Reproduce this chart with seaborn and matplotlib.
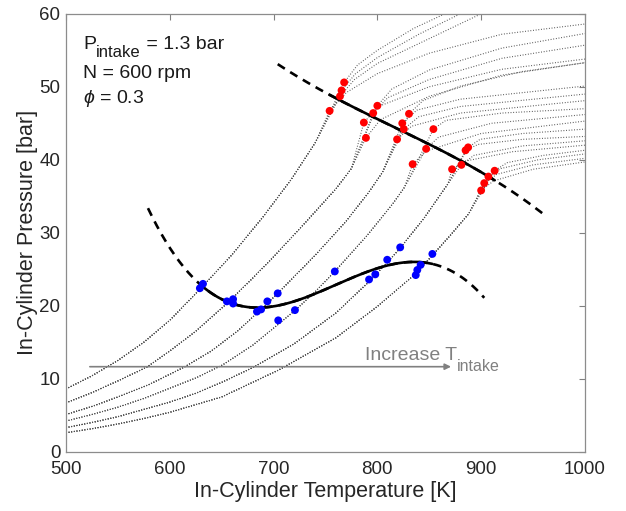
import numpy as np
import pandas as pd
import matplotlib
matplotlib.use("Agg")
import matplotlib.pyplot as plt
import seaborn as sns

# ---------------- data ----------------
# compression traces (temperature [K], pressure [bar]) per intake-temperature group
A_comp_T = [500, 525, 550, 575, 600, 630, 660, 690, 717, 740]
A_comp_P = [8.6, 10.4, 12.5, 15.0, 18.0, 22.4, 27.0, 32.2, 37.3, 42.3]
B_comp_T = [500, 525, 550, 578, 600, 625, 655, 680, 700, 730, 760, 775]
B_comp_P = [6.7, 8.1, 9.7, 11.6, 13.8, 16.5, 20.3, 23.8, 26.7, 31.3, 36.0, 38.8]
C_comp_T = [500, 525, 550, 580, 614, 640, 665, 688, 704, 740, 770, 792, 805]
C_comp_P = [5.1, 6.2, 7.5, 9.2, 11.6, 13.8, 16.5, 19.5, 21.7, 26.9, 31.6, 35.6, 38.3]
D_comp_T = [500, 525, 550, 575, 600, 625, 651, 680, 704, 721, 740, 759, 790, 815, 826]
D_comp_P = [4.2, 5.1, 6.1, 7.3, 8.7, 10.1, 11.9, 14.6, 17.4, 19.4, 21.9, 24.7, 29.6, 34.0, 36.2]
E_comp_T = [500, 525, 550, 575, 600, 625, 650, 681, 720, 760, 792, 810, 822, 845, 868]
E_comp_P = [3.3, 4.0, 4.8, 5.8, 6.8, 8.0, 9.5, 11.6, 14.8, 19.0, 23.3, 26.0, 27.9, 32.0, 36.7]
F_comp_T = [500, 525, 550, 575, 600, 650, 705, 760, 800, 837, 853, 870, 888]
F_comp_P = [2.6, 3.15, 3.8, 4.55, 5.4, 7.5, 11.2, 15.6, 19.9, 24.4, 26.9, 29.6, 32.6]

# ignition (red) points per group
A_red_T = [754, 764, 765.5, 768]
A_red_P = [46.7, 48.7, 49.5, 50.6]
B_red_T = [787, 789, 796, 800]
B_red_P = [45.1, 43.0, 46.4, 47.4]
C_red_T = [819, 824, 825.5, 830.5]
C_red_P = [42.8, 45.0, 44.2, 46.3]
D_red_T = [834, 847, 854]
D_red_P = [39.4, 41.5, 44.2]
E_red_T = [872, 881, 885, 887.5]
E_red_P = [38.7, 39.3, 41.3, 41.7]
F_red_T = [900, 903, 907, 913]
F_red_P = [35.8, 36.8, 37.7, 38.5]

# post-ignition traces, one list per cycle (same order as the red points)
A_trail_T = [[770, 800, 850, 920, 1000], [778, 800, 850, 900], [779, 800, 840, 880], [781, 800, 835, 865]]
A_trail_P = [[49.2, 51.8, 54.6, 57.2, 58.6], [51.0, 53.2, 56.6, 60.0], [51.8, 54.0, 57.2, 60.0], [53.0, 55.0, 58.0, 60.0]]
B_trail_T = [[801, 850, 920, 1000], [803, 850, 920, 1000], [810, 850, 920, 1000], [814, 850, 920, 1000]]
B_trail_P = [[47.3, 50.0, 52.4, 53.8], [45.5, 48.7, 51.6, 53.3], [48.5, 51.0, 53.9, 55.7], [49.7, 52.3, 55.3, 57.3]]
C_trail_T = [[833, 880, 1000], [838, 880, 1000], [840, 880, 1000], [844, 880, 940, 1000]]
C_trail_P = [[44.6, 46.4, 48.1], [46.8, 48.3, 50.1], [45.9, 47.3, 49.0], [48.1, 50.1, 52.1, 53.3]]
D_trail_T = [[847, 900, 1000], [859, 910, 1000], [866, 920, 1000]]
D_trail_P = [[41.2, 43.6, 45.3], [43.1, 45.0, 46.2], [45.4, 46.4, 47.0]]
E_trail_T = [[884, 930, 1000], [893, 940, 1000], [897, 940, 1000], [899, 940, 1000]]
E_trail_P = [[39.8, 41.1, 42.0], [40.6, 41.9, 42.6], [42.1, 42.8, 43.2], [42.8, 43.6, 44.2]]
F_trail_T = [[912, 950, 1000], [915, 950, 1000], [919, 955, 1000], [925, 960, 1000]]
F_trail_P = [[37.1, 38.7, 39.7], [38.0, 39.3, 40.2], [38.8, 40.0, 40.8], [39.6, 40.6, 41.3]]

# low-temperature (blue) points
blue_T = [629, 632, 655, 661, 661, 684, 688, 694, 704, 704.5, 720.6, 759,
          792, 798, 809.5, 822, 837, 838.5, 841.7, 853]
blue_P = [22.4, 23.0, 20.6, 20.9, 20.3, 19.2, 19.5, 20.6, 21.7, 18.0, 19.4, 24.7,
          23.6, 24.3, 26.3, 28.0, 24.2, 24.9, 25.6, 27.1]

x_ticks = [500, 600, 700, 800, 900, 1000]
y_ticks = [0, 10, 20, 30, 40, 50, 60]

# ---------------- build tables ----------------
groups = [
    (A_comp_T, A_comp_P, A_red_T, A_red_P, A_trail_T, A_trail_P),
    (B_comp_T, B_comp_P, B_red_T, B_red_P, B_trail_T, B_trail_P),
    (C_comp_T, C_comp_P, C_red_T, C_red_P, C_trail_T, C_trail_P),
    (D_comp_T, D_comp_P, D_red_T, D_red_P, D_trail_T, D_trail_P),
    (E_comp_T, E_comp_P, E_red_T, E_red_P, E_trail_T, E_trail_P),
    (F_comp_T, F_comp_P, F_red_T, F_red_P, F_trail_T, F_trail_P),
]
rows = []
red_T, red_P = [], []
cyc = 0
for cT, cP, rT, rP, tT, tP in groups:
    for k in range(len(rT)):
        Ts = [t for t in cT if t < rT[k] - 2] + [rT[k]] + tT[k]
        Ps = [p for t, p in zip(cT, cP) if t < rT[k] - 2] + [rP[k]] + tP[k]
        for t, p in zip(Ts, Ps):
            rows.append((cyc, t, p))
        cyc += 1
    red_T += rT
    red_P += rP
traces = pd.DataFrame(rows, columns=["cycle", "T", "P"])
blue = pd.DataFrame({"T": blue_T, "P": blue_P})
red = pd.DataFrame({"T": red_T, "P": red_P})

# ---------------- style ----------------
sns.set_style("white")
plt.rcParams["font.family"] = ["Liberation Sans", "DejaVu Sans"]
plt.rcParams["mathtext.fontset"] = "custom"
plt.rcParams["mathtext.rm"] = "Liberation Sans"
plt.rcParams["mathtext.it"] = "Liberation Sans:italic"
plt.rcParams["mathtext.sf"] = "Liberation Sans"

fig = plt.figure(figsize=(6.26, 5.11), dpi=100)
ax = fig.add_axes([0.1054, 0.116, 0.829, 0.857])

sns.lineplot(data=traces, x="T", y="P", units="cycle", estimator=None, sort=False,
             color="0.3", lw=0.8, ls=(0, (0.8, 1.6)), ax=ax, legend=False)

# cubic fits of the marker clouds
def draw_fit(T, P):
    c = np.polyfit(T, P, 3)
    lo, hi = min(T), max(T)
    xs = np.linspace(lo - 50, hi + 50, 300)
    ax.plot(xs, np.polyval(c, xs), color="black", lw=1.9, ls=(0, (3.2, 2.4)), zorder=3)
    xs2 = np.linspace(lo, hi, 200)
    ax.plot(xs2, np.polyval(c, xs2), color="black", lw=1.9, zorder=4)

draw_fit(blue_T, blue_P)
draw_fit(red_T, red_P)

sns.scatterplot(data=blue, x="T", y="P", color="#0000ff", s=32, edgecolor="none", ax=ax, zorder=5)
sns.scatterplot(data=red, x="T", y="P", color="#ff0000", s=32, edgecolor="none", ax=ax, zorder=5)

ax.annotate("", xy=(871, 11.65), xytext=(523, 11.65),
            arrowprops=dict(arrowstyle="-|>", color="0.5", lw=1.2, mutation_scale=9,
                            shrinkA=0, shrinkB=0))


def sub_text(x, y, main, sub, rest, size, subsize, drop, color, coords):
    t1 = ax.text(x, y, main, fontsize=size, color=color, transform=coords, va="baseline")
    t2 = ax.annotate(sub, xy=(1, 0), xycoords=t1, xytext=(0, -drop), textcoords="offset points",
                     fontsize=subsize, color=color, va="bottom", ha="left")
    if rest:
        ax.annotate(rest, xy=(1, 0), xycoords=(t2, t1), fontsize=size, color=color,
                    va="bottom", ha="left")


sub_text(788, 12.5, "Increase T", "intake", "", 14, 11.5, 6.5, "0.5", ax.transData)
sub_text(0.033, 0.92, "P", "intake", " = 1.3 bar", 14, 12, 5.5, "0.1", ax.transAxes)
ax.text(0.033, 0.853, "N = 600 rpm", transform=ax.transAxes, fontsize=14, color="0.1")
ax.text(0.033, 0.796, r"$\phi$ = 0.3", transform=ax.transAxes, fontsize=14, color="0.1")

ax.set_xlim(500, 1000)
ax.set_ylim(0, 60)
ax.set_xticks(x_ticks)
ax.set_yticks(y_ticks)
ax.set_xlabel("In-Cylinder Temperature [K]", fontsize=15.5, color="0.15", labelpad=2)
ax.set_ylabel("In-Cylinder Pressure [bar]", fontsize=15.5, color="0.15", labelpad=1)
ax.tick_params(direction="in", top=True, right=True, length=4, width=0.8,
               color="0.5", labelsize=13.5, labelcolor="0.15")
ax.tick_params(axis="x", pad=7)
ax.tick_params(axis="y", pad=4)
for s in ax.spines.values():
    s.set_color("0.55")
    s.set_linewidth(0.9)

fig.savefig("out.png", dpi=100)
